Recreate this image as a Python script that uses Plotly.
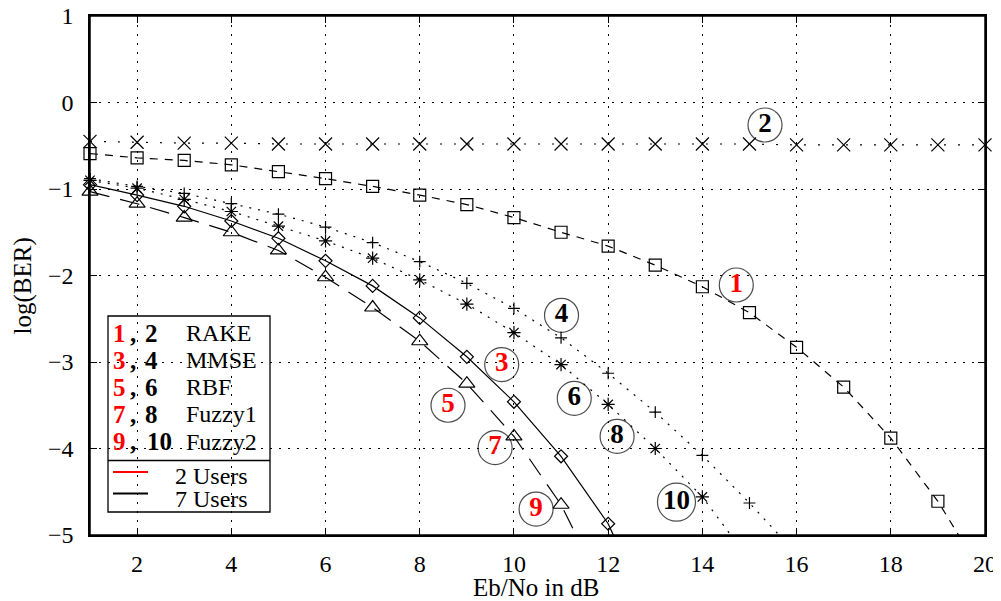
import plotly.graph_objects as go

# ---------------- data ----------------
snr = list(range(1, 21))  # Eb/No in dB

rake_7users = [-0.45, -0.46, -0.47, -0.47, -0.48, -0.48, -0.48, -0.48, -0.48, -0.48,
               -0.48, -0.48, -0.48, -0.48, -0.48, -0.49, -0.49, -0.49, -0.49, -0.49]
rake_2users = [-0.59, -0.64, -0.67, -0.72, -0.80, -0.88, -0.97, -1.07, -1.18, -1.33,
               -1.50, -1.66, -1.88, -2.13, -2.43, -2.83, -3.29, -3.88, -4.61, -5.50]
mmse_7users = [-0.88, -0.97, -1.05, -1.17, -1.29, -1.44, -1.62, -1.84, -2.09, -2.38,
               -2.72, -3.13, -3.58, -4.08, -4.63, -5.22]
rbf_7users = [-0.90, -0.99, -1.12, -1.26, -1.43, -1.60, -1.80, -2.05, -2.33, -2.66,
              -3.03, -3.49, -4.00, -4.56, -5.29]
mmse_2users = [-0.95, -1.07, -1.20, -1.37, -1.57, -1.83, -2.12, -2.49, -2.94, -3.46,
               -4.09, -4.87, -6.05]
fuzzy_2users = [-1.03, -1.17, -1.33, -1.50, -1.71, -2.02, -2.37, -2.76, -3.25, -3.86,
                -4.65, -5.74]

# circled curve labels
label_text = ["1", "2", "3", "4", "5", "6", "7", "8", "9", "10"]
label_x = [14.72, 15.33, 9.74, 11.01, 8.60, 11.28, 9.60, 12.19, 10.47, 13.45]
label_y = [-2.11, -0.26, -3.03, -2.46, -3.50, -3.42, -3.99, -3.86, -4.70, -4.62]

# custom legend content
legend_methods = ["RAKE", "MMSE", "RBF", "Fuzzy1", "Fuzzy2"]
legend_red = ["1", "3", "5", "7", "9"]
legend_black = ["2", "4", "6", "8", "10"]
legend_users = ["2 Users", "7 Users"]

Y_MIN, Y_MAX = -5, 1
X_MIN, X_MAX = 1, 20

FONT = "Liberation Serif"

# ---------------- figure ----------------
fig = go.Figure()

series = [
    (rake_7users, "x-thin-open", 13, "2px,12px"),
    (rake_2users, "square-open", 12, "8px,7px"),
    (mmse_7users, "cross-thin-open", 8.5, "2px,7px"),
    (rbf_7users, "asterisk-open", 11, "2px,7px"),
    (mmse_2users, "diamond-open", 10, "solid"),
    (fuzzy_2users, "triangle-up-open", 14, "20px,11px"),
]

for ys, sym, size, dash in series:
    xs = snr[:len(ys)]
    fig.add_trace(go.Scatter(
        x=xs, y=ys, mode="lines",
        line=dict(color="black", width=1.2, dash=dash),
        showlegend=False, hoverinfo="skip"))
    mx = [x for x, y in zip(xs, ys) if Y_MIN <= y <= Y_MAX]
    my = [y for y in ys if Y_MIN <= y <= Y_MAX]
    fig.add_trace(go.Scatter(
        x=mx, y=my, mode="markers", cliponaxis=False,
        marker=dict(symbol=sym, size=size, color="black",
                    line=dict(color="black", width=1.2)),
        showlegend=False))

# circled labels
sizes = [38 if len(t) > 1 else 34 for t in label_text]
colors = ["red" if int(t) % 2 == 1 else "black" for t in label_text]
fig.add_trace(go.Scatter(
    x=label_x, y=label_y, mode="markers+text",
    text=["<b>%s</b>" % t for t in label_text],
    textposition="middle center",
    textfont=dict(family=FONT, size=27, color=colors),
    marker=dict(symbol="circle-open", size=sizes, color="black",
                line=dict(color="black", width=1.2)),
    showlegend=False, cliponaxis=False))

# ---------------- layout geometry ----------------
# the page adds an 8 px body margin, so the figure is drawn 8 px smaller
# and its plot area shifted accordingly
OFF = 8
W, H = 1001 - OFF, 601 - OFF
L, R, T, B = 90 - OFF, 985 - OFF, 16 - OFF, 535 - OFF


def px(p):  # page pixel x -> paper
    return (p - OFF - L) / (R - L)


def py(p):  # page pixel y -> paper
    return (B - (p - OFF)) / (B - T)


shapes = [
    # plot frame
    dict(type="rect", xref="paper", yref="paper", x0=0, x1=1, y0=0, y1=1,
         line=dict(color="black", width=1.5), layer="above"),
    # legend box
    dict(type="rect", xref="paper", yref="paper",
         x0=px(108), x1=px(270), y0=py(512), y1=py(316),
         line=dict(color="black", width=1.3)),
    dict(type="line", xref="paper", yref="paper",
         x0=px(108), x1=px(270), y0=py(460.5), y1=py(460.5),
         line=dict(color="black", width=1.3)),
    dict(type="line", xref="paper", yref="paper",
         x0=px(113), x1=px(148), y0=py(472), y1=py(472),
         line=dict(color="red", width=2.2)),
    dict(type="line", xref="paper", yref="paper",
         x0=px(113), x1=px(148), y0=py(493.5), y1=py(493.5),
         line=dict(color="black", width=2.2)),
]

annotations = []
row_y = [333, 360, 387, 414, 441.5]
for i, (m, r, b) in enumerate(zip(legend_methods, legend_red, legend_black)):
    yy = py(row_y[i])
    annotations.append(dict(xref="paper", yref="paper", x=px(119.5), y=yy,
                            text="<b>%s</b>" % r, showarrow=False,
                            xanchor="center", yanchor="middle",
                            font=dict(family=FONT, size=25, color="red")))
    annotations.append(dict(xref="paper", yref="paper", x=px(133), y=yy,
                            text="<b>,</b>", showarrow=False,
                            xanchor="center", yanchor="middle",
                            font=dict(family=FONT, size=25, color="black")))
    bx = 159.5 if len(b) > 1 else 151.5
    annotations.append(dict(xref="paper", yref="paper", x=px(bx), y=yy,
                            text="<b>%s</b>" % b, showarrow=False,
                            xanchor="center", yanchor="middle",
                            font=dict(family=FONT, size=25, color="black")))
    annotations.append(dict(xref="paper", yref="paper", x=px(184), y=yy,
                            text=m, showarrow=False,
                            xanchor="left", yanchor="middle",
                            font=dict(family=FONT, size=24, color="black")))

for txt, yv in zip(legend_users, [475.5, 499]):
    annotations.append(dict(xref="paper", yref="paper", x=px(173), y=py(yv),
                            text=txt, showarrow=False,
                            xanchor="left", yanchor="middle",
                            font=dict(family=FONT, size=24, color="black")))

# axis titles placed as in the reference
annotations.append(dict(xref="paper", yref="paper", x=px(22), y=py(286.5),
                        text="log(BER)", showarrow=False, textangle=-90,
                        xanchor="center", yanchor="middle",
                        font=dict(family=FONT, size=25, color="black")))
annotations.append(dict(xref="paper", yref="paper", x=px(536), y=py(587),
                        text="Eb/No in dB", showarrow=False,
                        xanchor="center", yanchor="middle",
                        font=dict(family=FONT, size=25, color="black")))

axis_common = dict(
    showline=True, linecolor="black", linewidth=1.5, mirror="ticks",
    ticks="inside", ticklen=7, tickwidth=1.3, tickcolor="black",
    showgrid=True, gridcolor="black", gridwidth=1, griddash="2px,7px",
    zeroline=False, automargin=False, ticklabeloverflow="allow",
    tickfont=dict(family=FONT, size=24, color="black"),
)

# extra axes on the top and right edges, carrying the inside ticks there
mirror_axis = dict(showline=False, ticks="inside", ticklen=7, tickwidth=1.3,
                   tickcolor="black", showgrid=False, zeroline=False,
                   showticklabels=False, automargin=False)

fig.update_layout(
    template="none",
    width=W, height=H,
    margin=dict(l=L, r=W - R, t=T, b=H - B, pad=0),
    paper_bgcolor="white", plot_bgcolor="white",
    font=dict(family=FONT, size=24, color="black"),
    shapes=shapes, annotations=annotations,
    xaxis=dict(range=[X_MIN, X_MAX], tick0=0, dtick=2,
               ticklabelstandoff=6, **axis_common),
    yaxis=dict(range=[Y_MIN, Y_MAX], tick0=0, dtick=1,
               ticklabelstandoff=10, **axis_common),
    xaxis2=dict(range=[X_MIN, X_MAX], tick0=0, dtick=2, overlaying="x",
                side="top", anchor="y", **mirror_axis),
    yaxis2=dict(range=[Y_MIN, Y_MAX], tick0=0, dtick=1, overlaying="y",
                side="right", anchor="x", **mirror_axis),
    showlegend=False,
)

fig.write_html("out.html")
